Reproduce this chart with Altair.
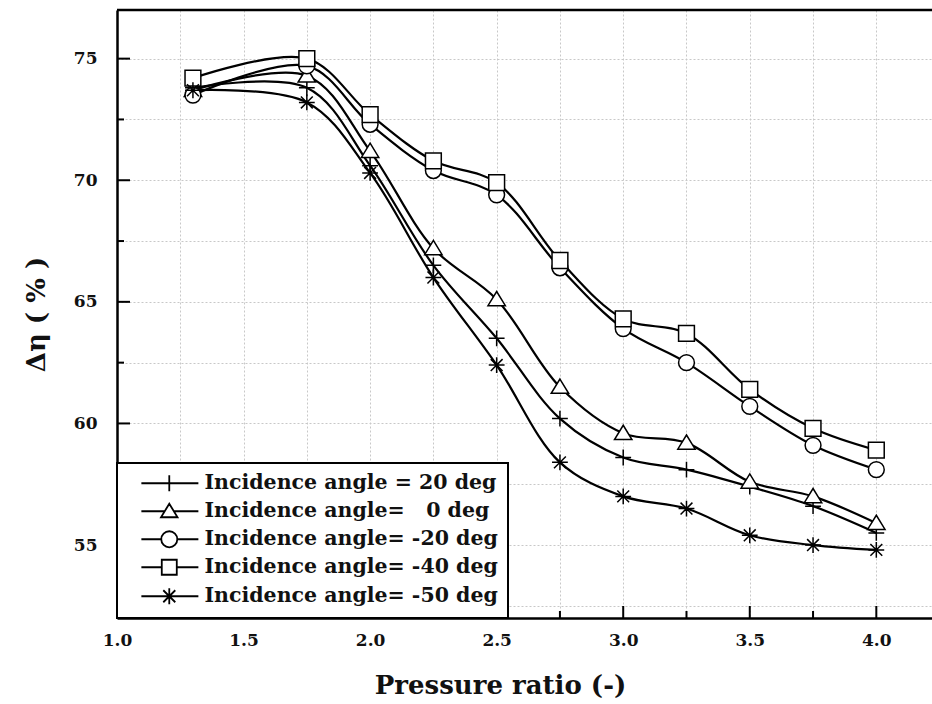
import altair as alt
import pandas as pd

# ---------------- data ----------------
pressure_ratio = [1.3, 1.75, 2.0, 2.25, 2.5, 2.75, 3.0, 3.25, 3.5, 3.75, 4.0]
series_labels = [
    "Incidence angle = 20 deg",
    "Incidence angle=\u00a0\u00a0\u00a00 deg",
    "Incidence angle= -20 deg",
    "Incidence angle= -40 deg",
    "Incidence angle= -50 deg",
]
eta_p20 = [73.8, 73.8, 70.6, 66.5, 63.5, 60.2, 58.6, 58.1, 57.4, 56.6, 55.5]
eta_0 = [73.7, 74.3, 71.2, 67.2, 65.1, 61.5, 59.6, 59.2, 57.6, 57.0, 55.9]
eta_m20 = [73.5, 74.7, 72.3, 70.4, 69.4, 66.4, 63.9, 62.5, 60.7, 59.1, 58.1]
eta_m40 = [74.2, 75.0, 72.7, 70.8, 69.9, 66.7, 64.3, 63.7, 61.4, 59.8, 58.9]
eta_m50 = [73.7, 73.2, 70.3, 66.0, 62.4, 58.4, 57.0, 56.5, 55.4, 55.0, 54.8]
all_series = [eta_p20, eta_0, eta_m20, eta_m40, eta_m50]

x_grid_values = [1.0, 1.25, 1.5, 1.75, 2.0, 2.25, 2.5, 2.75, 3.0, 3.25, 3.5, 3.75, 4.0]
y_grid_values = [52.5, 55, 57.5, 60, 62.5, 65, 67.5, 70, 72.5, 75]
x_major_ticks = [1.5, 2.0, 2.5, 3.0, 3.5, 4.0]
x_minor_ticks = [1.25, 1.75, 2.25, 2.75, 3.25, 3.75]
y_major_ticks = [55, 60, 65, 70, 75]
y_minor_ticks = [52.5, 57.5, 62.5, 67.5, 72.5]

rows = []
for lab, vals in zip(series_labels, all_series):
    for xv, yv in zip(pressure_ratio, vals):
        rows.append({"x": xv, "y": yv, "series": lab})
df = pd.DataFrame(rows)

# ---------------- style ----------------
W, H = 815, 608
FONT = "DejaVu Serif"
XDOM = [1.0, 4.22]
YDOM = [52, 77]

marker_paths = [
    "M-1,0L1,0M0,-1L0,1",
    "M0,-1L1.1,0.8L-1.1,0.8Z",
    "circle",
    "square",
    "M-1,0L1,0M0,-1L0,1M-0.75,-0.75L0.75,0.75M-0.75,0.75L0.75,-0.75",
]

cx = 4.27
L0, L1 = 0.55, 8.15
r = 1.07
w0 = 1.1 * (1.0 / 1.8)
legend_paths = [
    f"M{L0},0L{L1},0M{cx},-{r}L{cx},{r}",
    f"M{L0},0L{cx-w0:.3f},0M{cx+w0:.3f},0L{L1},0M{cx},-1L{cx+1.1:.3f},0.8L{cx-1.1:.3f},0.8Z",
    f"M{L0},0L{cx-r:.3f},0M{cx+r:.3f},0L{L1},0M{cx+r:.3f},0A{r},{r},0,1,1,{cx-r:.3f},0A{r},{r},0,1,1,{cx+r:.3f},0Z",
    f"M{L0},0L{cx-1:.3f},0M{cx+1:.3f},0L{L1},0M{cx-1:.3f},-1L{cx+1:.3f},-1L{cx+1:.3f},1L{cx-1:.3f},1Z",
    f"M{L0},0L{L1},0M{cx},-{r}L{cx},{r}M{cx-0.8:.3f},-0.8L{cx+0.8:.3f},0.8M{cx-0.8:.3f},0.8L{cx+0.8:.3f},-0.8",
]

xenc = alt.X(
    "x:Q",
    scale=alt.Scale(domain=XDOM, nice=False, zero=False),
    axis=alt.Axis(
        title="Pressure ratio (-)",
        values=x_grid_values,
        labelExpr="(datum.value*2) % 1 == 0 ? format(datum.value, '.1f') : ''",
        titleX=383,
        labelFlush=False,
    ),
)
yenc = alt.Y(
    "y:Q",
    scale=alt.Scale(domain=YDOM, nice=False, zero=False),
    axis=alt.Axis(
        title="Δη ( % )",
        values=y_grid_values,
        labelExpr="datum.value % 5 == 0 ? format(datum.value, 'd') : ''",
        labelFlush=False,
    ),
)

lines = alt.Chart(df).mark_line(color="black", strokeWidth=2.2, interpolate="catmull-rom").encode(
    x=xenc, y=yenc, detail="series:N"
)

points = alt.Chart(df).mark_point(
    filled=True, fill="white", stroke="black", strokeWidth=1.5, size=250, opacity=1
).encode(
    x=xenc,
    y=yenc,
    shape=alt.Shape("series:N", scale=alt.Scale(domain=series_labels, range=marker_paths), legend=None),
)

legend_layer = alt.Chart(df).mark_point(
    filled=False, color="black", strokeWidth=1.8, size=225, opacity=1
).encode(
    x=xenc,
    y=yenc,
    shape=alt.Shape(
        "series:N",
        scale=alt.Scale(domain=series_labels, range=legend_paths),
        legend=alt.Legend(
            title=None,
            orient="bottom-left",
            offset=0,
            padding=10,
            strokeColor="black",
            fillColor="white",
            labelFont=FONT,
            labelFontSize=20.5,
            labelFontWeight="bold",
            labelColor="#111111",
            labelOffset=57,
            labelLimit=400,
            rowPadding=5,
            symbolSize=225,
            symbolStrokeWidth=1.8,
            symbolStrokeColor="black",
            symbolOpacity=1,
        ),
    ),
).transform_filter("false")

xt_major = alt.Chart(pd.DataFrame({"x": x_major_ticks})).mark_rule(color="black", strokeWidth=2).encode(
    x=alt.X("x:Q"), y=alt.value(H), y2=alt.value(H - 12)
)
xt_minor = alt.Chart(pd.DataFrame({"x": x_minor_ticks})).mark_rule(color="black", strokeWidth=2).encode(
    x=alt.X("x:Q"), y=alt.value(H), y2=alt.value(H - 7)
)
yt_major = alt.Chart(pd.DataFrame({"y": y_major_ticks})).mark_rule(color="black", strokeWidth=2).encode(
    y=alt.Y("y:Q"), x=alt.value(0), x2=alt.value(13)
)
yt_minor = alt.Chart(pd.DataFrame({"y": y_minor_ticks})).mark_rule(color="black", strokeWidth=2).encode(
    y=alt.Y("y:Q"), x=alt.value(0), x2=alt.value(7)
)
top_border = alt.Chart(pd.DataFrame({"y": [YDOM[1]]})).mark_rule(color="black", strokeWidth=2.5).encode(
    y=alt.Y("y:Q"), x=alt.value(0), x2=alt.value(W)
)

chart = (
    alt.layer(lines, points, xt_major, xt_minor, yt_major, yt_minor, top_border, legend_layer)
    .resolve_scale(shape="independent")
    .properties(
        width=W,
        height=H,
        autosize=alt.AutoSizeParams(type="none"),
        padding={"left": 117, "top": 10, "right": 0, "bottom": 86},
        background="white",
    )
    .configure_view(stroke=None)
    .configure_legend(strokeWidth=2)
    .configure_axis(
        labelFont=FONT,
        labelFontSize=17,
        labelFontWeight="bold",
        labelColor="#111111",
        titleFont=FONT,
        titleFontSize=26,
        titleFontWeight="bold",
        titleColor="#111111",
        domainColor="black",
        domainWidth=2.5,
        ticks=False,
        grid=True,
        gridColor="#c8c8c8",
        gridDash=[2, 2],
        gridWidth=1,
    )
    .configure_axisX(labelPadding=14, titlePadding=24)
    .configure_axisY(labelPadding=20, titlePadding=24)
)

chart.save("out.html", embed_options={"renderer": "svg", "actions": False})
